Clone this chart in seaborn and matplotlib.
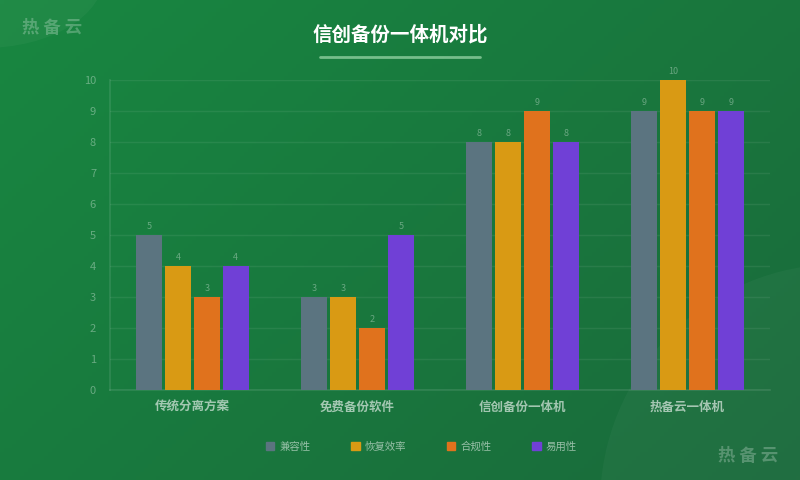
import matplotlib
matplotlib.use("Agg")
import matplotlib.pyplot as plt
import matplotlib.patches as mpatches
import matplotlib.colors as mc
import numpy as np
import pandas as pd
import seaborn as sns

# ---------------------------------------------------------------------------
# Data
# ---------------------------------------------------------------------------
CATEGORIES = ["传统分离方案", "免费备份软件", "信创备份一体机", "热备云一体机"]
SERIES = ["兼容性", "恢复效率", "合规性", "易用性"]
COMPAT = [5, 3, 8, 9]
RECOVERY = [4, 3, 8, 10]
COMPLIANCE = [3, 2, 9, 9]
USABILITY = [4, 5, 8, 9]

PALETTE = {
    "兼容性": "#5b7480",
    "恢复效率": "#d99a14",
    "合规性": "#e0721d",
    "易用性": "#7040d6",
}

df = pd.DataFrame({
    "方案": CATEGORIES * 4,
    "指标": [s for s in SERIES for _ in CATEGORIES],
    "得分": COMPAT + RECOVERY + COMPLIANCE + USABILITY,
})

sns.set_theme(style="white")
plt.rcParams["font.family"] = ["Noto Sans CJK SC", "DejaVu Sans"]

LIGHT = (1, 1, 1, 0.35)

fig = plt.figure(figsize=(8, 4.8), dpi=100)

# background gradient
bg = fig.add_axes([0, 0, 1, 1], zorder=-10)
c0 = np.array(mc.to_rgb("#188741"))
c1 = np.array(mc.to_rgb("#1a6a3b"))
xx, yy = np.meshgrid(np.linspace(0, 1, 200), np.linspace(0, 1, 120))
t = (xx * 0.6 + yy * 0.4)[..., None]
img = c0 * (1 - t) + c1 * t
bg.imshow(img, extent=[0, 1, 0, 1], aspect="auto", origin="upper")
bg.add_patch(mpatches.Circle((-0.02, 1.05), 0.15, transform=bg.transAxes,
                             color="white", alpha=0.035, lw=0))
bg.add_patch(mpatches.Ellipse((1.05, -0.05), 0.6, 1.0, transform=bg.transAxes,
                              color="white", alpha=0.03, lw=0))
bg.set_xlim(0, 1)
bg.set_ylim(0, 1)
bg.axis("off")

ax = fig.add_axes([0.1375, 0.1875, 0.825, 0.6458])
ax.patch.set_alpha(0)

sns.barplot(data=df, x="方案", y="得分", hue="指标", hue_order=SERIES,
            order=CATEGORIES, palette=PALETTE, saturation=1, width=0.7,
            gap=0.1, errorbar=None, ax=ax, zorder=3, linewidth=0)

for cont in ax.containers:
    ax.bar_label(cont, padding=3, fontsize=6.5, color=LIGHT)

ax.set_xlim(-0.5, 3.5)
ax.set_ylim(0, 10)
ax.set_yticks(range(0, 11))
ax.grid(axis="y", color="white", alpha=0.07, lw=1, zorder=0)
ax.tick_params(axis="y", labelsize=8, labelcolor=LIGHT, length=0, pad=10)
ax.tick_params(axis="x", labelsize=9, labelcolor=(1, 1, 1, 0.6), length=0, pad=8)
for lbl in ax.get_xticklabels():
    lbl.set_fontweight("bold")
ax.set_xlabel("")
ax.set_ylabel("")
for s in ["top", "right"]:
    ax.spines[s].set_visible(False)
for s in ["left", "bottom"]:
    ax.spines[s].set_color((1, 1, 1, 0.1))

if ax.get_legend():
    ax.get_legend().remove()
handles = [mpatches.FancyBboxPatch((0, 0), 1, 1, boxstyle="round,pad=0,rounding_size=0.15",
                                   color=PALETTE[s], label=s) for s in SERIES]
fig.legend(handles=handles, loc="center", bbox_to_anchor=(0.527, 0.07),
           ncol=4, frameon=False, fontsize=7.5, labelcolor=(1, 1, 1, 0.55),
           handlelength=0.8, handleheight=0.8, handletextpad=0.5,
           columnspacing=3.9)

fig.text(0.5, 0.927, "信创备份一体机对比", ha="center", va="center",
         fontsize=14, fontweight="bold", color="white")
fig.add_artist(plt.Line2D([0.4, 0.6], [0.881, 0.881], color="#8fcf9f",
                          alpha=0.8, lw=2, transform=fig.transFigure))

fig.text(0.0275, 0.942, "热 备 云", ha="left", va="center", fontsize=12.5,
         fontweight="bold", color=(1, 1, 1, 0.25))
fig.text(0.973, 0.05, "热 备 云", ha="right", va="center", fontsize=12.5,
         fontweight="bold", color=(1, 1, 1, 0.25))

fig.savefig("out.png", dpi=100)
